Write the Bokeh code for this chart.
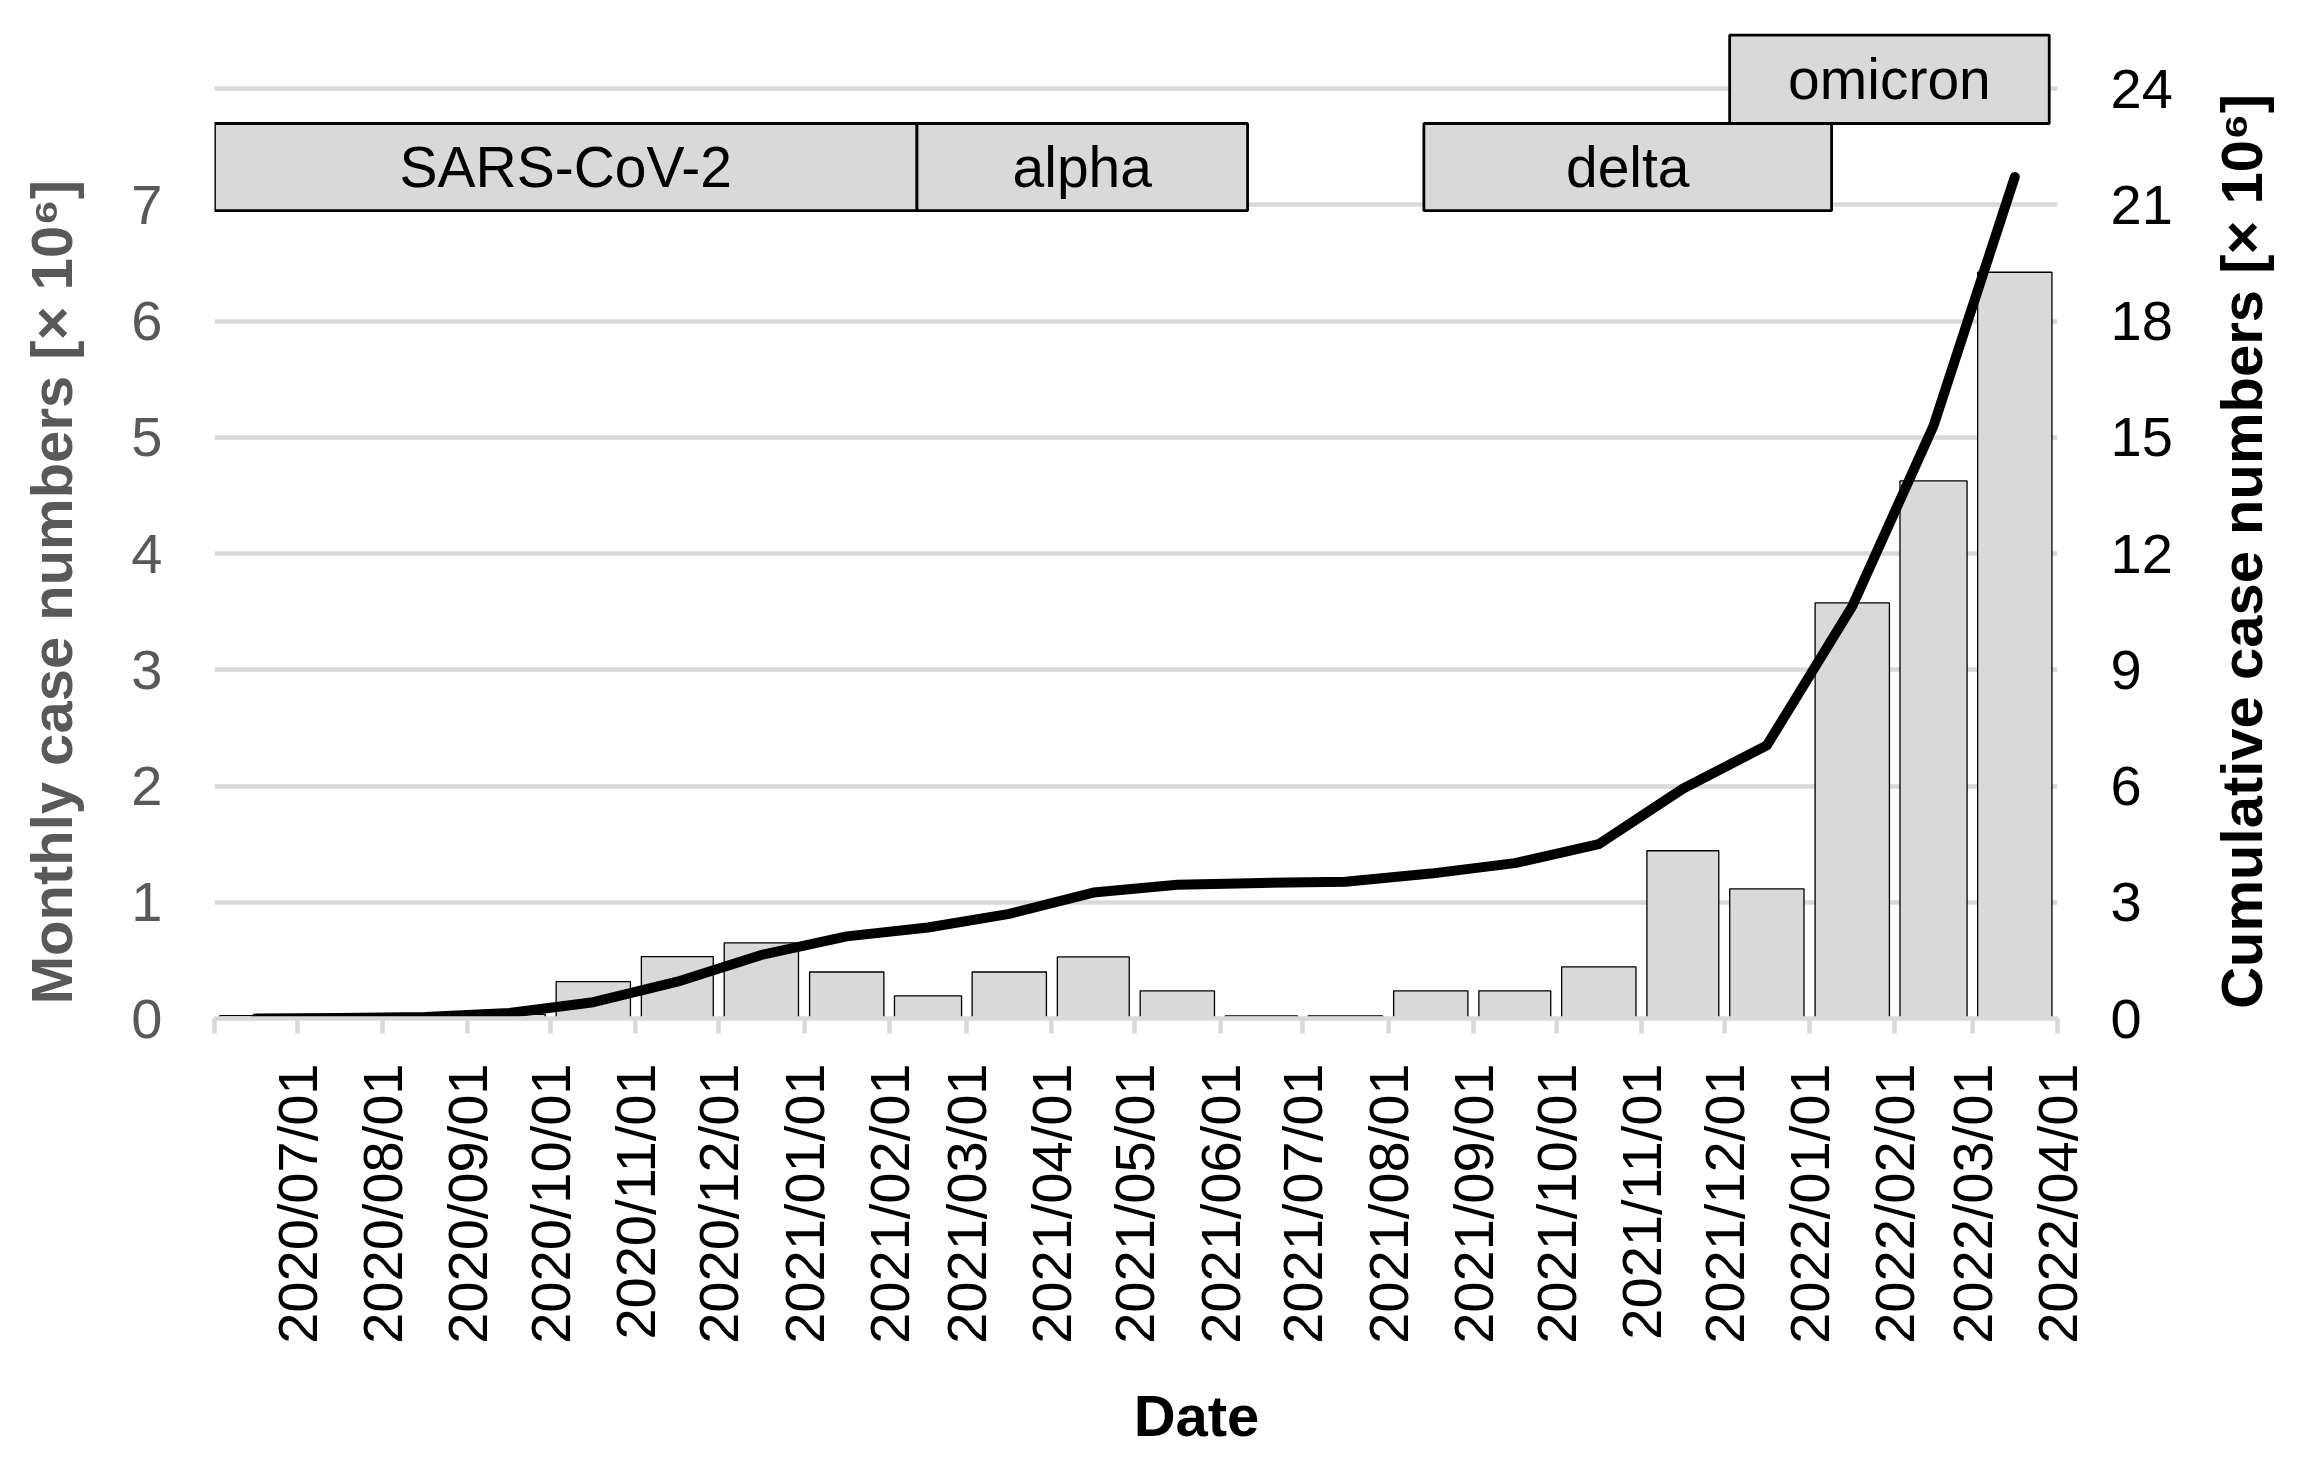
import datetime as dt
from math import pi

from bokeh.plotting import figure
from bokeh.layouts import row, column
from bokeh.models import Range1d, LinearAxis, FixedTicker, ColumnDataSource
from bokeh.core.properties import value
from bokeh.embed import file_html
from bokeh.resources import INLINE

# ---------------- data ----------------
month_starts = ["2020-06-01", "2020-07-01", "2020-08-01", "2020-09-01", "2020-10-01",
                "2020-11-01", "2020-12-01", "2021-01-01", "2021-02-01", "2021-03-01",
                "2021-04-01", "2021-05-01", "2021-06-01", "2021-07-01", "2021-08-01",
                "2021-09-01", "2021-10-01", "2021-11-01", "2021-12-01", "2022-01-01",
                "2022-02-01", "2022-03-01", "2022-04-01"]
tick_labels = ["", "2020/07/01", "2020/08/01", "2020/09/01", "2020/10/01", "2020/11/01",
               "2020/12/01", "2021/01/01", "2021/02/01", "2021/03/01", "2021/04/01",
               "2021/05/01", "2021/06/01", "2021/07/01", "2021/08/01", "2021/09/01",
               "2021/10/01", "2021/11/01", "2021/12/01", "2022/01/01", "2022/02/01",
               "2022/03/01", "2022/04/01"]
# monthly case numbers [x 10^6], June 2020 .. March 2022
monthly_cases = [0.025, 0.02, 0.04, 0.035, 0.318, 0.533, 0.651, 0.40, 0.195, 0.40, 0.53,
                 0.238, 0.023, 0.023, 0.238, 0.238, 0.445, 1.443, 1.116, 3.576, 4.625, 6.42]
# cumulative case numbers [x 10^6]
cumulative_cases = [0.0, 0.01, 0.04, 0.14, 0.42, 0.95, 1.64, 2.12, 2.35, 2.70, 3.25,
                    3.45, 3.50, 3.53, 3.74, 4.01, 4.50, 5.93, 7.05, 10.64, 15.30, 21.72]
variant_names = ["SARS-CoV-2", "alpha", "delta", "omicron"]
variant_from = ["2020-06-01", "2021-02-11", "2021-08-14", "2021-12-03"]
variant_to = ["2021-02-11", "2021-06-11", "2022-01-09", "2022-03-29"]
variant_row = [0, 0, 0, 1]
left_ticks = [0, 1, 2, 3, 4, 5, 6, 7]
right_ticks = [0, 3, 6, 9, 12, 15, 18, 21, 24]
grid_ticks = [1, 2, 3, 4, 5, 6, 7, 8]
x_title = "Date"
left_title = "Monthly case numbers [× 10⁶]"
right_title = "Cumulative case numbers [× 10⁶]"


def ms(s):
    d = dt.datetime.strptime(s, "%Y-%m-%d").replace(tzinfo=dt.timezone.utc)
    return d.timestamp() * 1000.0


# ---------------- layout constants (page pixels) ----------------
W, H = 2283, 1447
WL, WR = 100, 83          # side strips holding the rotated axis titles
WM = W - WL - WR          # main figure width
HM = 1360                 # main figure height
HB = H - HM               # bottom strip holding the x-axis title
FRAME_LEFT, FRAME_RIGHT, FRAME_TOP, FRAME_BOTTOM = 214, 2057, 30, 1018
Y_END = 8.5
Y2_END = Y_END * 3
GRID = "#d9d9d9"
FONT = "Liberation Sans"
BAR_FRAC = 0.87
LEFT_TITLE_Y = 773        # anchor (page px from top) giving the wanted placement
RIGHT_TITLE_Y = 717

starts = [ms(s) for s in month_starts]
x0, x1 = starts[0], starts[-1]
centers = [(a + b) / 2 for a, b in zip(starts[:-1], starts[1:])]
widths = [(b - a) * BAR_FRAC for a, b in zip(starts[:-1], starts[1:])]

p = figure(width=WM, height=HM, x_axis_type="datetime",
           x_range=Range1d(x0, x1), y_range=Range1d(0, Y_END),
           output_backend="svg", toolbar_location=None,
           min_border_left=FRAME_LEFT - WL, min_border_right=WL + WM - FRAME_RIGHT,
           min_border_top=FRAME_TOP, min_border_bottom=HM - FRAME_BOTTOM)
p.outline_line_color = None
p.background_fill_color = "white"
p.border_fill_color = "white"
p.extra_y_ranges = {"cum": Range1d(0, Y2_END)}

# grid
p.xgrid.visible = False
p.ygrid.ticker = FixedTicker(ticks=grid_ticks)
p.ygrid.grid_line_color = GRID
p.ygrid.grid_line_width = 4.5

# x axis
xa = p.xaxis[0]
xa.ticker = FixedTicker(ticks=starts)
xa.major_label_overrides = {t: lab for t, lab in zip(starts, tick_labels)}
xa.major_label_orientation = pi / 2
xa.major_label_text_font = FONT
xa.major_label_text_font_size = "56px"
xa.major_label_text_color = "black"
xa.major_label_standoff = 30
xa.axis_line_color = GRID
xa.axis_line_width = 4.5
xa.major_tick_line_color = GRID
xa.major_tick_line_width = 4.5
xa.major_tick_out = 15
xa.major_tick_in = 0
xa.minor_tick_line_color = None

# left axis
ya = p.yaxis[0]
ya.ticker = FixedTicker(ticks=left_ticks)
ya.axis_line_color = None
ya.major_tick_line_color = None
ya.minor_tick_line_color = None
ya.major_tick_out = 0
ya.major_tick_in = 0
ya.major_label_standoff = 52
ya.major_label_text_font = FONT
ya.major_label_text_font_size = "56px"
ya.major_label_text_color = "#595959"

# right axis
ra = LinearAxis(y_range_name="cum", ticker=FixedTicker(ticks=right_ticks))
ra.axis_line_color = None
ra.major_tick_line_color = None
ra.minor_tick_line_color = None
ra.major_tick_out = 0
ra.major_tick_in = 0
ra.major_label_standoff = 53
ra.major_label_text_font = FONT
ra.major_label_text_font_size = "56px"
ra.major_label_text_color = "black"
p.add_layout(ra, "right")

# bars
bar_src = ColumnDataSource(dict(x=centers, w=widths, top=monthly_cases))
p.vbar(x="x", width="w", top="top", bottom=0, source=bar_src,
       fill_color=GRID, line_color="black", line_width=1.3)

# cumulative line
p.line(x=centers, y=cumulative_cases, y_range_name="cum", line_color="black",
       line_width=10, line_cap="round", line_join="round")

# variant boxes
ROW_BOTTOM = [6.95, 7.70]
ROW_TOP = [7.70, 8.46]
lefts = [ms(s) for s in variant_from]
rights = [ms(s) for s in variant_to]
bots = [ROW_BOTTOM[r] for r in variant_row]
tops = [ROW_TOP[r] for r in variant_row]
box_src = ColumnDataSource(dict(l=lefts, r=rights, b=bots, t=tops,
                                xc=[(a + b) / 2 for a, b in zip(lefts, rights)],
                                yc=[(a + b) / 2 for a, b in zip(bots, tops)],
                                name=variant_names))
p.quad(left="l", right="r", bottom="b", top="t", source=box_src,
       fill_color=GRID, line_color="black", line_width=2.8)
p.text(x="xc", y="yc", text="name", source=box_src, text_align="center",
       text_baseline="middle", text_font=value(FONT), text_font_size="57px",
       text_color="black")


# ---------------- axis titles in thin side strips ----------------
def strip(w, h):
    f = figure(width=w, height=h, x_range=Range1d(0, w), y_range=Range1d(0, h),
               output_backend="svg", toolbar_location=None, min_border=0,
               x_axis_location=None, y_axis_location=None)
    f.outline_line_color = None
    f.background_fill_color = "white"
    f.border_fill_color = "white"
    f.grid.visible = False
    return f


pl = strip(WL, HM)
pl.text(x=[51], y=[HM - LEFT_TITLE_Y], text=[left_title], angle=pi / 2,
        text_align="center", text_baseline="middle", text_font=value(FONT),
        text_font_size="58px", text_font_style="bold", text_color="#595959")

pr = strip(WR, HM)
pr.text(x=[2241 - WL - WM], y=[HM - RIGHT_TITLE_Y], text=[right_title], angle=pi / 2,
        text_align="center", text_baseline="middle", text_font=value(FONT),
        text_font_size="58px", text_font_style="bold", text_color="black")

pb = strip(W, HB)
pb.text(x=[1196], y=[H - 1415], text=[x_title],
        text_align="center", text_baseline="middle", text_font=value(FONT),
        text_font_size="58px", text_font_style="bold", text_color="black")

layout = column(row(pl, p, pr, spacing=0), pb, spacing=0)

open("out.html", "w").write(file_html(layout, INLINE))
